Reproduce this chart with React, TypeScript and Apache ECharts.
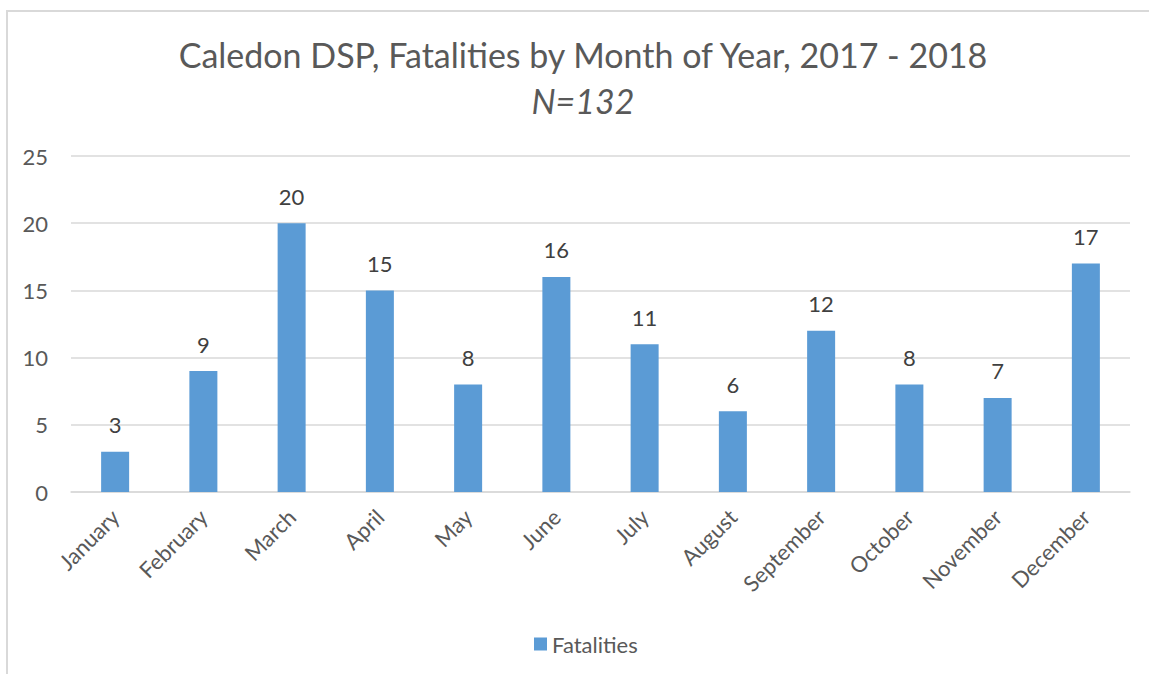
import React, { useEffect, useRef } from "react";
import * as echarts from "echarts";

const months = ["January", "February", "March", "April", "May", "June", "July", "August", "September", "October", "November", "December"];
const fatalities = [3, 9, 20, 15, 8, 16, 11, 6, 12, 8, 7, 17];
const seriesName = "Fatalities";
const titleText = "Caledon DSP, Fatalities by Month of Year, 2017 - 2018";
const subtitleText = "N=132";

export default function App() {
  const ref = useRef<HTMLDivElement>(null);
  useEffect(() => {
    if (!ref.current) return;
    const chart = echarts.init(ref.current, null, { renderer: "svg" });
    const font = "Lato, 'Open Sans', sans-serif";
    chart.setOption({
      animation: false,
      backgroundColor: "#ffffff",
      textStyle: { fontFamily: font },
      graphic: [
        {
          type: "rect",
          shape: { x: 7, y: 11, width: 1160, height: 680 },
          style: { fill: "none", stroke: "#d9d9d9", lineWidth: 2 },
          silent: true,
        },
      ],
      title: {
        text: titleText,
        subtext: subtitleText,
        left: 578,
        textAlign: "center",
        top: 32,
        itemGap: 12,
        textStyle: { fontFamily: font, fontSize: 34, fontWeight: "normal", color: "#595959" },
        subtextStyle: { fontFamily: font, fontSize: 34, fontStyle: "italic", color: "#595959" },
      },
      legend: {
        data: [seriesName],
        top: 628,
        left: 529,
        icon: "rect",
        itemWidth: 13,
        itemHeight: 13,
        itemGap: 8,
        textStyle: { fontFamily: font, fontSize: 22, color: "#595959" },
      },
      grid: { left: 71, right: 19, top: 156, bottom: 182, containLabel: false },
      xAxis: {
        type: "category",
        data: months,
        axisLine: { lineStyle: { color: "#d9d9d9", width: 1.5 } },
        axisTick: { show: false },
        axisLabel: { rotate: 45, fontSize: 22, color: "#595959", margin: 21, fontFamily: font },
      },
      yAxis: {
        type: "value",
        min: 0,
        max: 25,
        interval: 5,
        axisLine: { show: false },
        axisTick: { show: false },
        splitLine: { lineStyle: { color: "#d9d9d9", width: 1.5 } },
        axisLabel: { fontSize: 22, color: "#595959", margin: 23, fontFamily: font },
      },
      series: [
        {
          name: seriesName,
          type: "bar",
          data: fatalities,
          barWidth: 28,
          itemStyle: { color: "#5b9bd5" },
          label: { show: true, position: "top", fontSize: 22, color: "#404040", distance: 16, fontFamily: font },
        },
      ],
    });
    return () => chart.dispose();
  }, []);
  return <div ref={ref} style={{ position: "fixed", left: 0, top: 0, width: 1149, height: 674 }} />;
}
